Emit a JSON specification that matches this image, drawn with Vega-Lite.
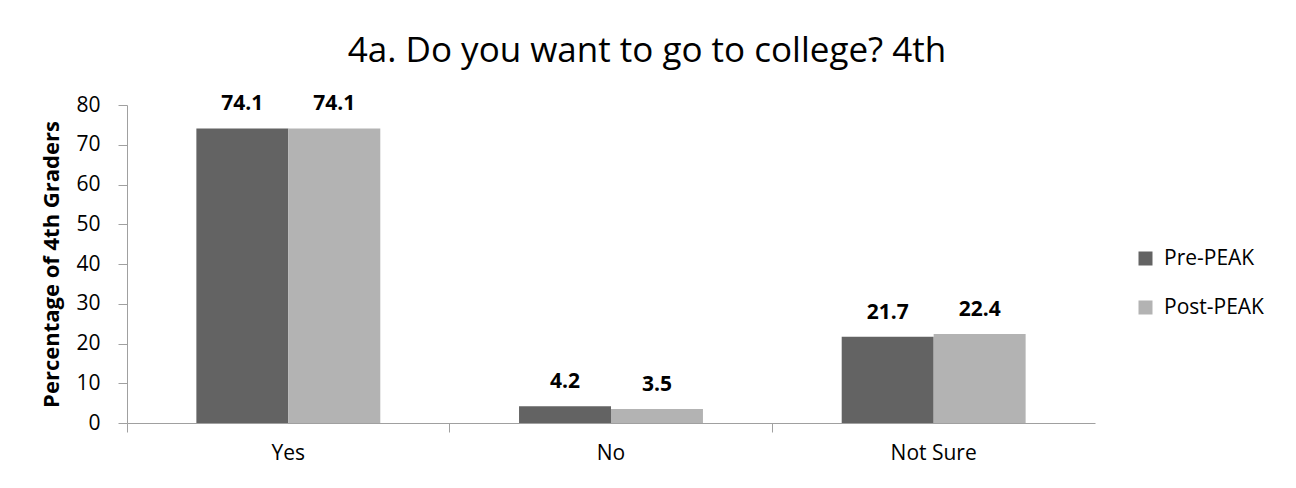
{
  "$schema": "https://vega.github.io/schema/vega-lite/v6.json",
  "width": 968,
  "height": 318,
  "autosize": {"type": "none"},
  "padding": {"left": 127, "top": 105, "right": 201, "bottom": 65},
  "background": "white",
  "title": {
    "text": "4a. Do you want to go to college? 4th",
    "font": "Open Sans",
    "fontSize": 35,
    "fontWeight": "normal",
    "color": "#000000",
    "anchor": "middle",
    "frame": "group",
    "dx": 36,
    "offset": 24
  },
  "config": {
    "view": {"stroke": null},
    "font": "Open Sans",
    "axis": {"labelFont": "Open Sans", "titleFont": "Open Sans", "labelColor": "#000000", "titleColor": "#000000"},
    "legend": {"labelFont": "Open Sans"}
  },
  "data": {
    "values": [
      {"Answer": "Yes", "Period": "Pre-PEAK", "Percent": 74.1},
      {"Answer": "Yes", "Period": "Post-PEAK", "Percent": 74.1},
      {"Answer": "No", "Period": "Pre-PEAK", "Percent": 4.2},
      {"Answer": "No", "Period": "Post-PEAK", "Percent": 3.5},
      {"Answer": "Not Sure", "Period": "Pre-PEAK", "Percent": 21.7},
      {"Answer": "Not Sure", "Period": "Post-PEAK", "Percent": 22.4}
    ]
  },
  "encoding": {
    "x": {
      "field": "Answer",
      "type": "nominal",
      "sort": ["Yes", "No", "Not Sure"],
      "scale": {"paddingInner": 0.43, "paddingOuter": 0.215},
      "axis": {
        "title": null,
        "labelAngle": 0,
        "labelFontSize": 21,
        "labelPadding": 10,
        "domainColor": "#a0a0a0",
        "tickColor": "#a0a0a0",
        "tickSize": 9,
        "bandPosition": -0.377,
        "grid": false
      }
    },
    "xOffset": {"field": "Period", "type": "nominal", "sort": ["Pre-PEAK", "Post-PEAK"]},
    "y": {
      "field": "Percent",
      "type": "quantitative",
      "scale": {"domain": [0, 80]},
      "axis": {
        "title": "Percentage of 4th Graders",
        "titleFontSize": 22,
        "titleFontWeight": "bold",
        "titlePadding": 12,
        "values": [0, 10, 20, 30, 40, 50, 60, 70, 80],
        "labelFontSize": 21,
        "labelPadding": 18,
        "domainColor": "#a0a0a0",
        "tickColor": "#a0a0a0",
        "tickSize": 9,
        "grid": false
      }
    }
  },
  "layer": [
    {
      "mark": {"type": "bar"},
      "encoding": {
        "color": {
          "field": "Period",
          "type": "nominal",
          "sort": ["Pre-PEAK", "Post-PEAK"],
          "scale": {"domain": ["Pre-PEAK", "Post-PEAK"], "range": ["#636363", "#b3b3b3"]},
          "legend": {
            "title": null,
            "orient": "none",
            "legendX": 1008,
            "legendY": 143,
            "symbolType": "square",
            "symbolSize": 196,
            "symbolStrokeWidth": 0,
            "labelFontSize": 21,
            "labelColor": "#000000",
            "rowPadding": 27,
            "labelOffset": 8
          }
        }
      }
    },
    {
      "mark": {"type": "text", "baseline": "alphabetic", "dy": -18, "fontSize": 21, "fontWeight": "bold", "color": "#000000"},
      "encoding": {
        "text": {"field": "Percent", "type": "quantitative", "format": ".1f"}
      }
    }
  ]
}
